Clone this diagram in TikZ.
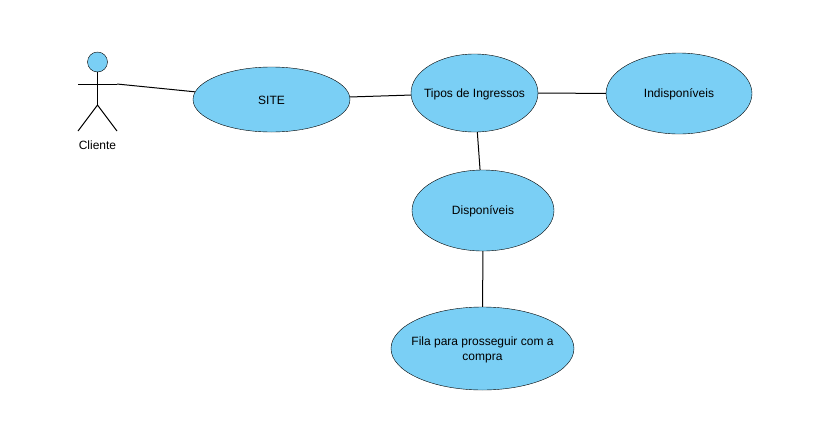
\documentclass[tikz,border=0pt]{standalone}
\usepackage{fontspec}
\setmainfont{Liberation Sans}
\usetikzlibrary{shapes.geometric}
\definecolor{ucblue}{HTML}{7ACFF5}
\tikzstyle{blockUC} = [ellipse, draw, fill=ucblue, inner sep=0pt]
\tikzstyle{uctext} = [label={[align=center, yshift=-1pt]center:#1}]
\tikzstyle{line} = [draw, line width=1pt]

\begin{document}
\begin{tikzpicture}[x=1pt, y=-1pt, font=\fontsize{12}{15}\selectfont]
    \useasboundingbox (0,0) rectangle (831,426);

    % nodes
    \node [blockUC, minimum width=157pt, minimum height=65pt, uctext={SITE}] (site) at (271.5,99.5) {};
    \node [blockUC, minimum width=127pt, minimum height=78pt, uctext={Tipos de Ingressos}] (tipos) at (474.5,93) {};
    \node [blockUC, minimum width=146pt, minimum height=81pt, uctext={Indisponíveis}] (indisp) at (679,93.5) {};
    \node [blockUC, minimum width=142pt, minimum height=81pt, uctext={Disponíveis}] (disp) at (483,210.5) {};
    \node [blockUC, minimum width=183pt, minimum height=83pt, uctext={Fila para prosseguir com a\\compra}] (fila) at (482.5,348.5) {};

    % actor
    \node [circle, draw, fill=ucblue, inner sep=0pt, minimum size=20pt] (head) at (97.5,62) {};
    \coordinate (armL) at (78,84);
    \coordinate (armR) at (117,84);
    \coordinate (hip) at (97.5,105);
    \coordinate (legL) at (78,131);
    \coordinate (legR) at (117,131);
    \node (cliente) at (97.5,145.5) {Cliente};
    \path [line] (head) -- (hip);
    \path [line] (armL) -- (armR);
    \path [line] (legL) -- (hip) -- (legR);

    % edges
    \path [line] (armR) -- (site);
    \path [line] (site) -- (tipos);
    \path [line] (tipos) -- (indisp);
    \path [line] (tipos) -- (disp);
    \path [line] (disp) -- (fila);
\end{tikzpicture}
\end{document}
